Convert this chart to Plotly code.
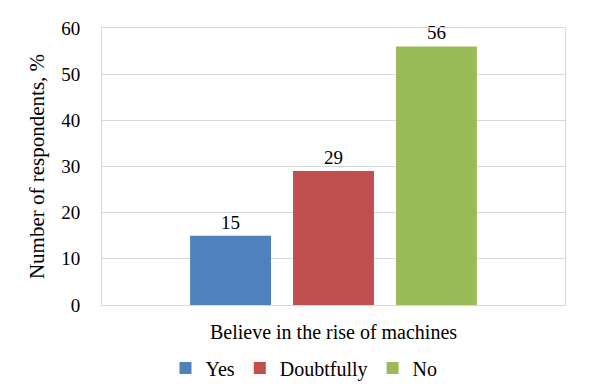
import plotly.graph_objects as go

category = ["Believe in the rise of machines"]
series_names = ["Yes", "Doubtfully", "No"]
series_values = [[15], [29], [56]]
series_colors = ["#4F81BD", "#C0504D", "#9BBB59"]
y_ticks = [0, 10, 20, 30, 40, 50, 60]

FONT = "Liberation Serif"

fig = go.Figure()
for name, vals, col in zip(series_names, series_values, series_colors):
    fig.add_trace(go.Bar(
        x=category, y=vals, name=name, marker=dict(color=col, line=dict(width=0)),
        text=[str(v) for v in vals], textposition="outside",
        textfont=dict(family=FONT, size=19, color="#000000"),
        cliponaxis=False,
    ))

# page body has an 8px default margin, so the figure is 8px smaller and margins compensate
fig.update_layout(
    width=592, height=377,
    margin=dict(l=94, r=35, t=20, b=80, autoexpand=False),
    paper_bgcolor="white", plot_bgcolor="white",
    barmode="group", bargap=0.333, bargroupgap=0.214,
    font=dict(family=FONT, size=19, color="#000000"),
    showlegend=True,
    legend=dict(orientation="h", xref="container", yref="container",
                x=0.5, xanchor="center", y=0.045, yanchor="middle",
                font=dict(family=FONT, size=20, color="#000000"),
                itemwidth=30, tracegroupgap=0,
                traceorder="normal"),
    xaxis=dict(showgrid=False, showline=True, mirror=True, linecolor="#D9D9D9", linewidth=1,
               tickfont=dict(family=FONT, size=20, color="#000000"), ticks="",
               ticklabelstandoff=9, automargin=False),
    yaxis=dict(range=[0, 60], tickvals=y_ticks, showgrid=True, gridcolor="#D9D9D9", gridwidth=1,
               showline=True, mirror=True, linecolor="#D9D9D9", linewidth=1,
               zeroline=False, ticks="", ticklabelstandoff=17, automargin=False,
               tickfont=dict(family=FONT, size=19, color="#000000"),
               title=dict(text="Number of respondents, %", standoff=10,
                          font=dict(family=FONT, size=21, color="#000000"))),
)

fig.write_html("out.html")
